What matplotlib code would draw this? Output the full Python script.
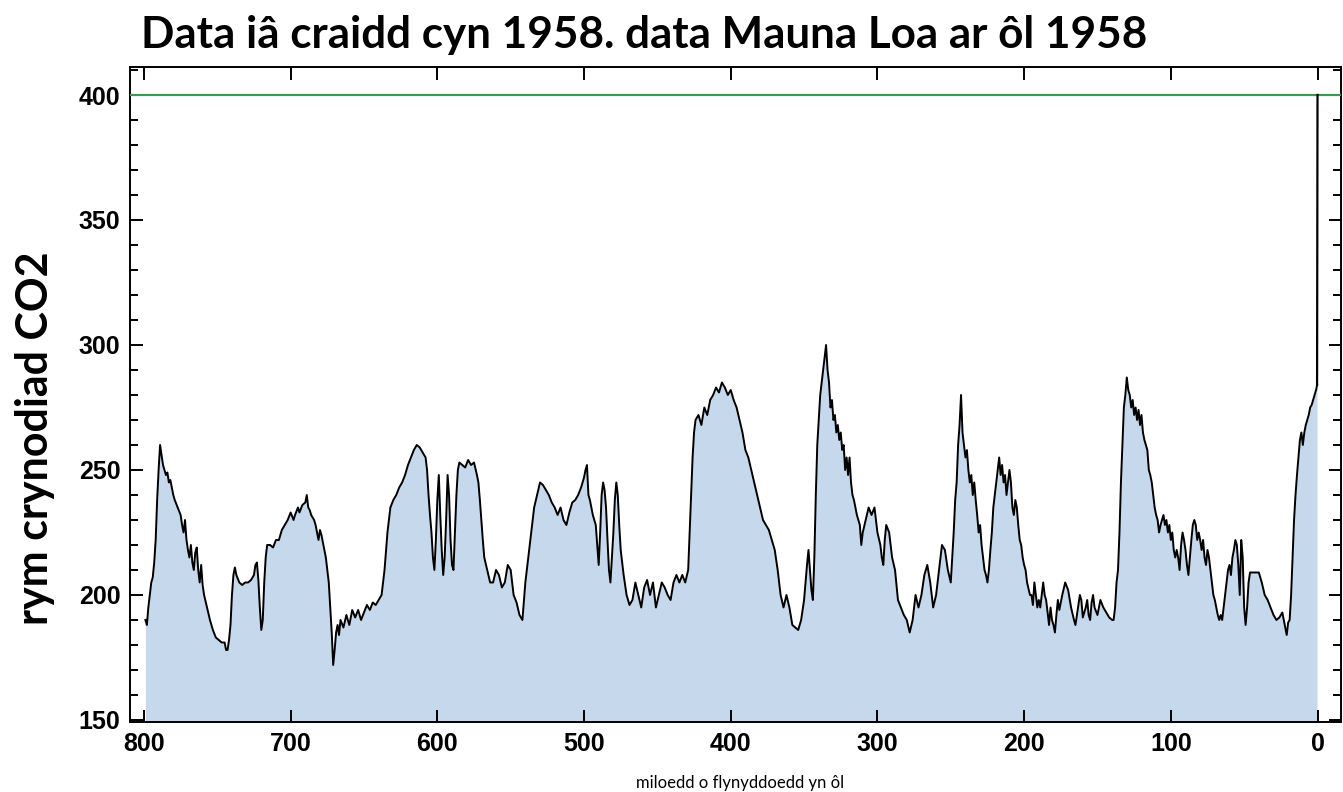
import numpy as np
import matplotlib.pyplot as plt
from matplotlib.ticker import MultipleLocator

# ice core record, thousands of years before present
ages = [799, 798, 797, 796, 795, 794, 793, 792, 791, 790, 789, 788, 787, 786, 785, 784, 783, 782, 781, 780,
        779, 777, 775, 774, 773, 772, 771, 770, 769, 768, 767, 766, 765, 764, 763, 762, 761, 760, 759, 757,
        755, 753, 751, 749, 747, 745, 744, 743, 742, 741, 740, 739, 738, 737, 735, 733, 731, 729, 727, 725,
        724, 723, 722, 721, 720, 719, 718, 717, 716, 714, 712, 710, 708, 706, 704, 702, 700, 698, 697, 695,
        694, 692, 690, 689, 688, 687, 686, 684, 683, 681, 680, 679, 677, 676, 674, 673, 672, 671, 670, 669,
        668, 667, 666, 664, 662, 660, 658, 656, 654, 652, 650, 648, 646, 644, 642, 640, 638, 636, 634, 632,
        630, 628, 626, 624, 622, 620, 618, 616, 614, 612, 610, 608, 607, 606, 605, 604, 603, 602, 601, 600,
        599, 598, 597, 596, 595, 594, 593, 592, 591, 590, 589, 588, 587, 586, 585, 583, 581, 579, 577, 575,
        573, 572, 571, 570, 569, 568, 566, 564, 562, 560, 558, 556, 554, 552, 550, 548, 546, 544, 542, 540,
        538, 536, 534, 532, 530, 528, 526, 524, 522, 520, 518, 516, 514, 512, 510, 508, 506, 504, 502, 500,
        499, 498, 497, 496, 495, 494, 493, 492, 491, 490, 489, 488, 487, 486, 485, 484, 483, 482, 481, 480,
        479, 478, 477, 476, 475, 473, 471, 469, 467, 465, 463, 461, 459, 457, 455, 453, 451, 449, 447, 445,
        443, 441, 439, 437, 435, 433, 431, 429, 428, 427, 426, 425, 424, 422, 420, 418, 416, 414, 412, 410,
        408, 406, 404, 402, 400, 398, 396, 394, 392, 390, 388, 386, 384, 382, 380, 378, 376, 374, 372, 370,
        368, 366, 364, 362, 360, 358, 356, 354, 352, 350, 349, 348, 347, 346, 345, 344, 343, 342, 341, 340,
        339, 338, 337, 336, 335, 334, 333, 332, 331, 330, 329, 328, 327, 326, 325, 324, 323, 322, 321, 320,
        319, 318, 317, 316, 315, 314, 313, 312, 311, 310, 308, 306, 304, 302, 300, 298, 297, 296, 295, 294,
        292, 290, 288, 286, 284, 282, 280, 278, 276, 274, 272, 270, 268, 266, 264, 262, 260, 258, 256, 254,
        252, 250, 249, 248, 247, 246, 245, 244, 243, 242, 241, 240, 239, 238, 237, 236, 235, 234, 233, 232,
        231, 230, 229, 228, 227, 226, 225, 224, 223, 222, 221, 220, 219, 218, 217, 216, 215, 214, 213, 212,
        211, 210, 209, 208, 207, 206, 205, 204, 203, 202, 201, 200, 199, 198, 196, 195, 194, 193, 192, 191,
        190, 189, 188, 187, 186, 185, 184, 183, 182, 181, 180, 179, 178, 177, 176, 174, 172, 170, 168, 166,
        165, 164, 162, 161, 160, 158, 157, 156, 155, 154, 153, 152, 150, 148, 146, 144, 142, 140, 139, 138,
        137, 136, 135, 134, 133, 132, 131, 130, 129, 128, 127, 126, 125, 124, 123, 122, 121, 120, 119, 118,
        117, 116, 115, 114, 113, 112, 111, 110, 109, 108, 107, 106, 105, 104, 103, 102, 101, 100, 99, 98,
        97, 96, 95, 94, 93, 92, 91, 90, 89, 88, 87, 86, 85, 84, 83, 82, 81, 80, 79, 78,
        77, 76, 75, 74, 73, 72, 71, 70, 69, 68, 67, 66, 65, 64, 63, 62, 61, 60, 59, 58,
        57, 56, 55, 54, 53, 52, 51, 50, 49, 48, 47, 46, 45, 44, 43, 42, 41, 40, 38, 36,
        34, 32, 30, 28, 26, 24, 22, 21, 20, 19, 18, 17, 16, 15, 14, 13, 12, 11, 10, 9,
        8, 7, 6, 5, 4, 3, 2, 1, 0.3]
co2 = [190, 188, 195, 200, 205, 207, 213, 222, 238, 250, 260, 256, 252, 250, 248, 249, 245, 246, 243, 240,
       238, 235, 232, 228, 225, 230, 222, 218, 215, 220, 213, 210, 217, 219, 210, 205, 212, 204, 200, 195,
       190, 186, 183, 182, 181, 181, 178, 178, 182, 188, 200, 208, 211, 208, 205, 204, 205, 205, 206, 208,
       212, 213, 206, 195, 186, 190, 205, 215, 220, 220, 219, 222, 222, 226, 228, 230, 233, 230, 232, 235,
       233, 236, 237, 240, 235, 234, 232, 230, 228, 222, 226, 224, 218, 215, 205, 195, 185, 172, 178, 185,
       188, 184, 190, 187, 192, 188, 194, 191, 194, 190, 193, 196, 194, 197, 196, 198, 200, 210, 225, 235,
       238, 240, 243, 245, 248, 252, 255, 258, 260, 259, 257, 255, 250, 240, 232, 225, 215, 210, 222, 238,
       248, 232, 218, 208, 215, 230, 248, 240, 222, 212, 210, 225, 240, 250, 253, 252, 251, 254, 252, 253,
       248, 245, 238, 230, 222, 215, 210, 205, 205, 210, 208, 203, 205, 212, 210, 200, 197, 192, 190, 205,
       215, 225, 235, 240, 245, 244, 242, 240, 237, 235, 232, 235, 230, 228, 233, 237, 238, 240, 243, 247,
       250, 252, 240, 238, 235, 232, 230, 228, 220, 212, 225, 240, 245, 242, 235, 222, 210, 205, 215, 225,
       238, 245, 240, 228, 218, 208, 200, 196, 198, 205, 200, 195, 203, 206, 200, 205, 195, 200, 205, 203,
       200, 198, 205, 208, 205, 208, 205, 210, 225, 240, 255, 265, 270, 272, 268, 275, 272, 278, 280, 283,
       281, 285, 283, 280, 282, 278, 275, 270, 265, 258, 255, 250, 245, 240, 235, 230, 228, 226, 222, 218,
       210, 200, 195, 200, 195, 188, 187, 186, 190, 198, 205, 212, 218, 210, 202, 198, 215, 240, 260, 270,
       280, 285, 290, 295, 300, 290, 285, 275, 278, 270, 272, 265, 268, 262, 265, 258, 260, 250, 255, 248,
       255, 245, 240, 238, 235, 232, 230, 228, 220, 225, 230, 235, 232, 235, 225, 220, 215, 212, 222, 228,
       225, 215, 210, 198, 195, 192, 190, 185, 190, 200, 195, 200, 208, 212, 205, 195, 200, 210, 220, 218,
       210, 205, 215, 225, 238, 245, 260, 268, 280, 265, 260, 255, 258, 250, 245, 248, 240, 245, 238, 232,
       225, 228, 220, 215, 210, 208, 205, 210, 218, 225, 235, 240, 245, 250, 255, 248, 252, 245, 248, 240,
       245, 250, 245, 235, 232, 238, 235, 228, 222, 220, 215, 212, 210, 205, 200, 200, 196, 205, 200, 195,
       198, 195, 200, 205, 200, 198, 193, 188, 195, 190, 188, 185, 192, 198, 194, 200, 205, 202, 195, 190,
       188, 192, 200, 198, 191, 195, 198, 192, 190, 197, 200, 195, 192, 198, 195, 193, 191, 190, 190, 195,
       205, 210, 225, 245, 260, 275, 280, 287, 282, 280, 275, 278, 272, 275, 270, 274, 268, 272, 265, 262,
       260, 258, 250, 248, 245, 240, 235, 232, 230, 225, 228, 230, 232, 228, 230, 225, 228, 222, 225, 218,
       215, 218, 215, 210, 220, 225, 222, 218, 212, 208, 215, 222, 228, 230, 228, 222, 225, 222, 218, 222,
       215, 212, 218, 215, 210, 205, 200, 198, 195, 192, 190, 192, 190, 195, 200, 205, 210, 212, 208, 215,
       218, 222, 220, 212, 200, 222, 215, 195, 188, 195, 205, 209, 209, 209, 209, 209, 209, 209, 205, 200,
       198, 195, 192, 190, 191, 193, 187, 184, 189, 190, 200, 215, 230, 240, 248, 255, 262, 265, 260, 265,
       268, 270, 272, 275, 276, 278, 280, 282, 284]

# Mauna Loa jump at the present and today's level
ml_ages = [0.3, 0.0]
ml_co2 = [284, 400]
today_level = 400

xticks = [800, 700, 600, 500, 400, 300, 200, 100, 0]
yticks = [150, 200, 250, 300, 350, 400]

plt.rcParams['font.family'] = ['Liberation Sans', 'DejaVu Sans']

fig = plt.figure(figsize=(13.43, 7.92), dpi=100)
ax = fig.add_axes([0.0968, 0.0884, 0.9017, 0.827])

ax.fill_between(ages, co2, 140, color='#c6d9ec', lw=0)
ax.axhline(today_level, color='#3c9a48', lw=1.6, zorder=3)
ax.plot(ages, co2, color='black', lw=1.4, zorder=4)
ax.plot(ml_ages, ml_co2, color='black', lw=1.6, zorder=4)

ax.set_xlim(809.5, -16)
ax.set_ylim(149.2, 411.2)
ax.set_xticks(xticks)
ax.set_yticks(yticks)
ax.yaxis.set_minor_locator(MultipleLocator(10))
ax.tick_params(axis='both', which='both', direction='in', top=True, right=True, width=1.4)
ax.tick_params(axis='both', which='major', length=9, labelsize=18, pad=7)
ax.tick_params(axis='y', which='minor', length=6)
for lab in ax.get_xticklabels() + ax.get_yticklabels():
    lab.set_fontweight('bold')
for sp in ax.spines.values():
    sp.set_linewidth(1.4)

fig.text(0.4795, 0.956, 'Data iâ craidd cyn 1958. data Mauna Loa ar ôl 1958',
         ha='center', va='center', fontsize=31.7, fontweight='bold', family=['Lato', 'DejaVu Sans'])
fig.text(0.026, 0.447, 'rym crynodiad CO2', rotation=90, ha='center', va='center',
         fontsize=31, fontweight='bold', family=['Lato', 'DejaVu Sans'])
fig.text(0.551, 0.011, 'miloedd o flynyddoedd yn ôl', ha='center', va='center',
         fontsize=12, family=['Lato', 'DejaVu Sans'])

fig.savefig('out.png', dpi=100)
